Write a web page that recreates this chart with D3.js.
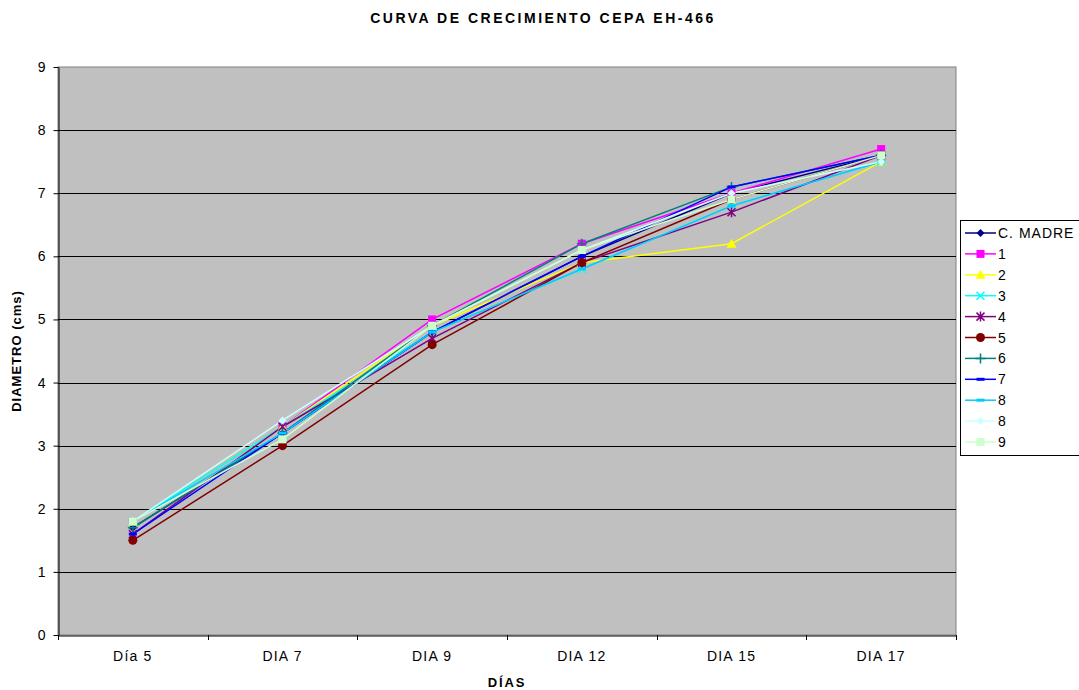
<!DOCTYPE html>
<html><head><meta charset="utf-8">
<script src="https://cdn.jsdelivr.net/npm/d3@7"></script>
<style>body{margin:0;background:#fff;}svg{font-family:"Liberation Sans",Arial,sans-serif;}</style>
</head><body>
<svg id="c" width="1079" height="690"></svg>
<script>
const categories = ["Día 5","DIA 7","DIA 9","DIA 12","DIA 15","DIA 17"];
const yTicks = [0,1,2,3,4,5,6,7,8,9];
const seriesNames = ["C. MADRE","1","2","3","4","5","6","7","8","8","9"];
const seriesColors = ["#000080","#FF00FF","#FFFF00","#00FFFF","#800080","#800000","#008080","#0000FF","#00CCFF","#CCFFFF","#CCFFCC"];
const seriesMarkers = ["diamond","square","triangle","x","star","circle","plus","dash","dash","diamond","square"];
const sCMadre = [1.7,3.2,4.8,6.0,7.0,7.6];
const s1 = [1.8,3.3,5.0,6.2,7.0,7.7];
const s2 = [1.8,3.3,4.9,5.9,6.2,7.5];
const s3 = [1.8,3.3,4.8,5.8,6.8,7.5];
const s4 = [1.6,3.3,4.7,5.9,6.7,7.6];
const s5 = [1.5,3.0,4.6,5.9,6.9,7.6];
const s6 = [1.7,3.2,4.9,6.2,7.1,7.6];
const s7 = [1.6,3.2,4.8,6.0,7.1,7.6];
const s8 = [1.8,3.2,4.8,5.8,6.8,7.5];
const s8b = [1.8,3.4,4.9,6.1,7.0,7.5];
const s9 = [1.8,3.1,4.9,6.1,6.9,7.6];
const seriesValues = [sCMadre,s1,s2,s3,s4,s5,s6,s7,s8,s8b,s9];

const svg = d3.select("#c");
const L=58,R=956,T=67,B=635;
const x = d3.scaleBand().domain(categories).range([L,R]);
const y = d3.scaleLinear().domain([0,9]).range([B,T]);

svg.append("rect").attr("x",L).attr("y",T).attr("width",R-L).attr("height",B-T).attr("fill","#C0C0C0").attr("stroke","#808080").attr("stroke-width",1);
svg.append("g").selectAll("line").data(yTicks.filter(d=>d>0&&d<9)).join("line")
  .attr("x1",L).attr("x2",R).attr("y1",d=>Math.round(y(d))+0.5).attr("y2",d=>Math.round(y(d))+0.5).attr("stroke","#000");

const ya = svg.append("g").attr("transform",`translate(${L+0.5},0)`).call(d3.axisLeft(y).tickValues(yTicks).tickSize(5).tickPadding(8).tickSizeOuter(0));
ya.select(".domain").attr("stroke","#000");
ya.selectAll("text").attr("font-size",14).attr("fill","#000");
const xa = svg.append("g").attr("transform",`translate(0,${B+0.5})`).call(d3.axisBottom(x).tickSize(0).tickPadding(16));
xa.select(".domain").attr("stroke","#000");
xa.selectAll("text").attr("font-size",14).attr("letter-spacing",1.2).attr("fill","#000");
svg.append("g").selectAll("line").data(d3.range(categories.length+1)).join("line")
  .attr("x1",i=>Math.round(L+i*x.step())+0.5).attr("x2",i=>Math.round(L+i*x.step())+0.5)
  .attr("y1",B).attr("y2",B+5).attr("stroke","#000");

function marker(g,type,color,cx,cy){
  const s=4;
  if(type==="diamond") g.append("path").attr("d",`M${cx},${cy-s}L${cx+s},${cy}L${cx},${cy+s}L${cx-s},${cy}Z`).attr("fill",color);
  else if(type==="square") g.append("rect").attr("x",cx-4).attr("y",cy-4).attr("width",8).attr("height",8).attr("fill",color);
  else if(type==="triangle") g.append("path").attr("d",`M${cx},${cy-5}L${cx+5},${cy+4}L${cx-5},${cy+4}Z`).attr("fill",color);
  else if(type==="circle") g.append("circle").attr("cx",cx).attr("cy",cy).attr("r",4.5).attr("fill",color);
  else if(type==="x") g.append("path").attr("d",`M${cx-4},${cy-4}L${cx+4},${cy+4}M${cx-4},${cy+4}L${cx+4},${cy-4}`).attr("stroke",color).attr("stroke-width",1.5);
  else if(type==="star") g.append("path").attr("d",`M${cx-4},${cy-4}L${cx+4},${cy+4}M${cx-4},${cy+4}L${cx+4},${cy-4}M${cx},${cy-5}L${cx},${cy+5}`).attr("stroke",color).attr("stroke-width",1.5);
  else if(type==="plus") g.append("path").attr("d",`M${cx-5},${cy}L${cx+5},${cy}M${cx},${cy-5}L${cx},${cy+5}`).attr("stroke",color).attr("stroke-width",1.5);
  else if(type==="dash") g.append("rect").attr("x",cx-4).attr("y",cy-1.5).attr("width",8).attr("height",3).attr("fill",color);
}

const line = d3.line().x((d,i)=>x(categories[i])+x.bandwidth()/2).y(d=>y(d));
const lg = svg.append("g");
seriesValues.forEach((vals,k)=>{
  lg.append("path").datum(vals).attr("d",line).attr("fill","none").attr("stroke",seriesColors[k]).attr("stroke-width",1.5);
});
seriesValues.forEach((vals,k)=>{
  vals.forEach((v,i)=>marker(lg,seriesMarkers[k],seriesColors[k],x(categories[i])+x.bandwidth()/2,y(v)));
});

// legend
const lgx=960.5, lgy=220.5;
svg.append("rect").attr("x",lgx).attr("y",lgy).attr("width",125).attr("height",235).attr("fill","#fff").attr("stroke","#000");
seriesNames.forEach((n,k)=>{
  const cy = 233 + k*20.9;
  svg.append("line").attr("x1",965).attr("x2",996).attr("y1",cy).attr("y2",cy).attr("stroke",seriesColors[k]).attr("stroke-width",1.5);
  marker(svg,seriesMarkers[k],seriesColors[k],980.5,cy);
  svg.append("text").attr("x",998).attr("y",cy+5).attr("font-size",14).attr("letter-spacing",1).text(n);
});

svg.append("text").attr("x",543).attr("y",23).attr("text-anchor","middle").attr("font-size",14).attr("font-weight","bold").attr("letter-spacing",2.5).text("CURVA DE CRECIMIENTO CEPA EH-466");
svg.append("text").attr("x",507).attr("y",687).attr("text-anchor","middle").attr("font-size",13).attr("font-weight","bold").attr("letter-spacing",1.8).text("DÍAS");
svg.append("text").attr("transform","translate(21,351) rotate(-90)").attr("text-anchor","middle").attr("font-size",13).attr("font-weight","bold").attr("letter-spacing",1).text("DIAMETRO (cms)");
</script>
</body></html>
